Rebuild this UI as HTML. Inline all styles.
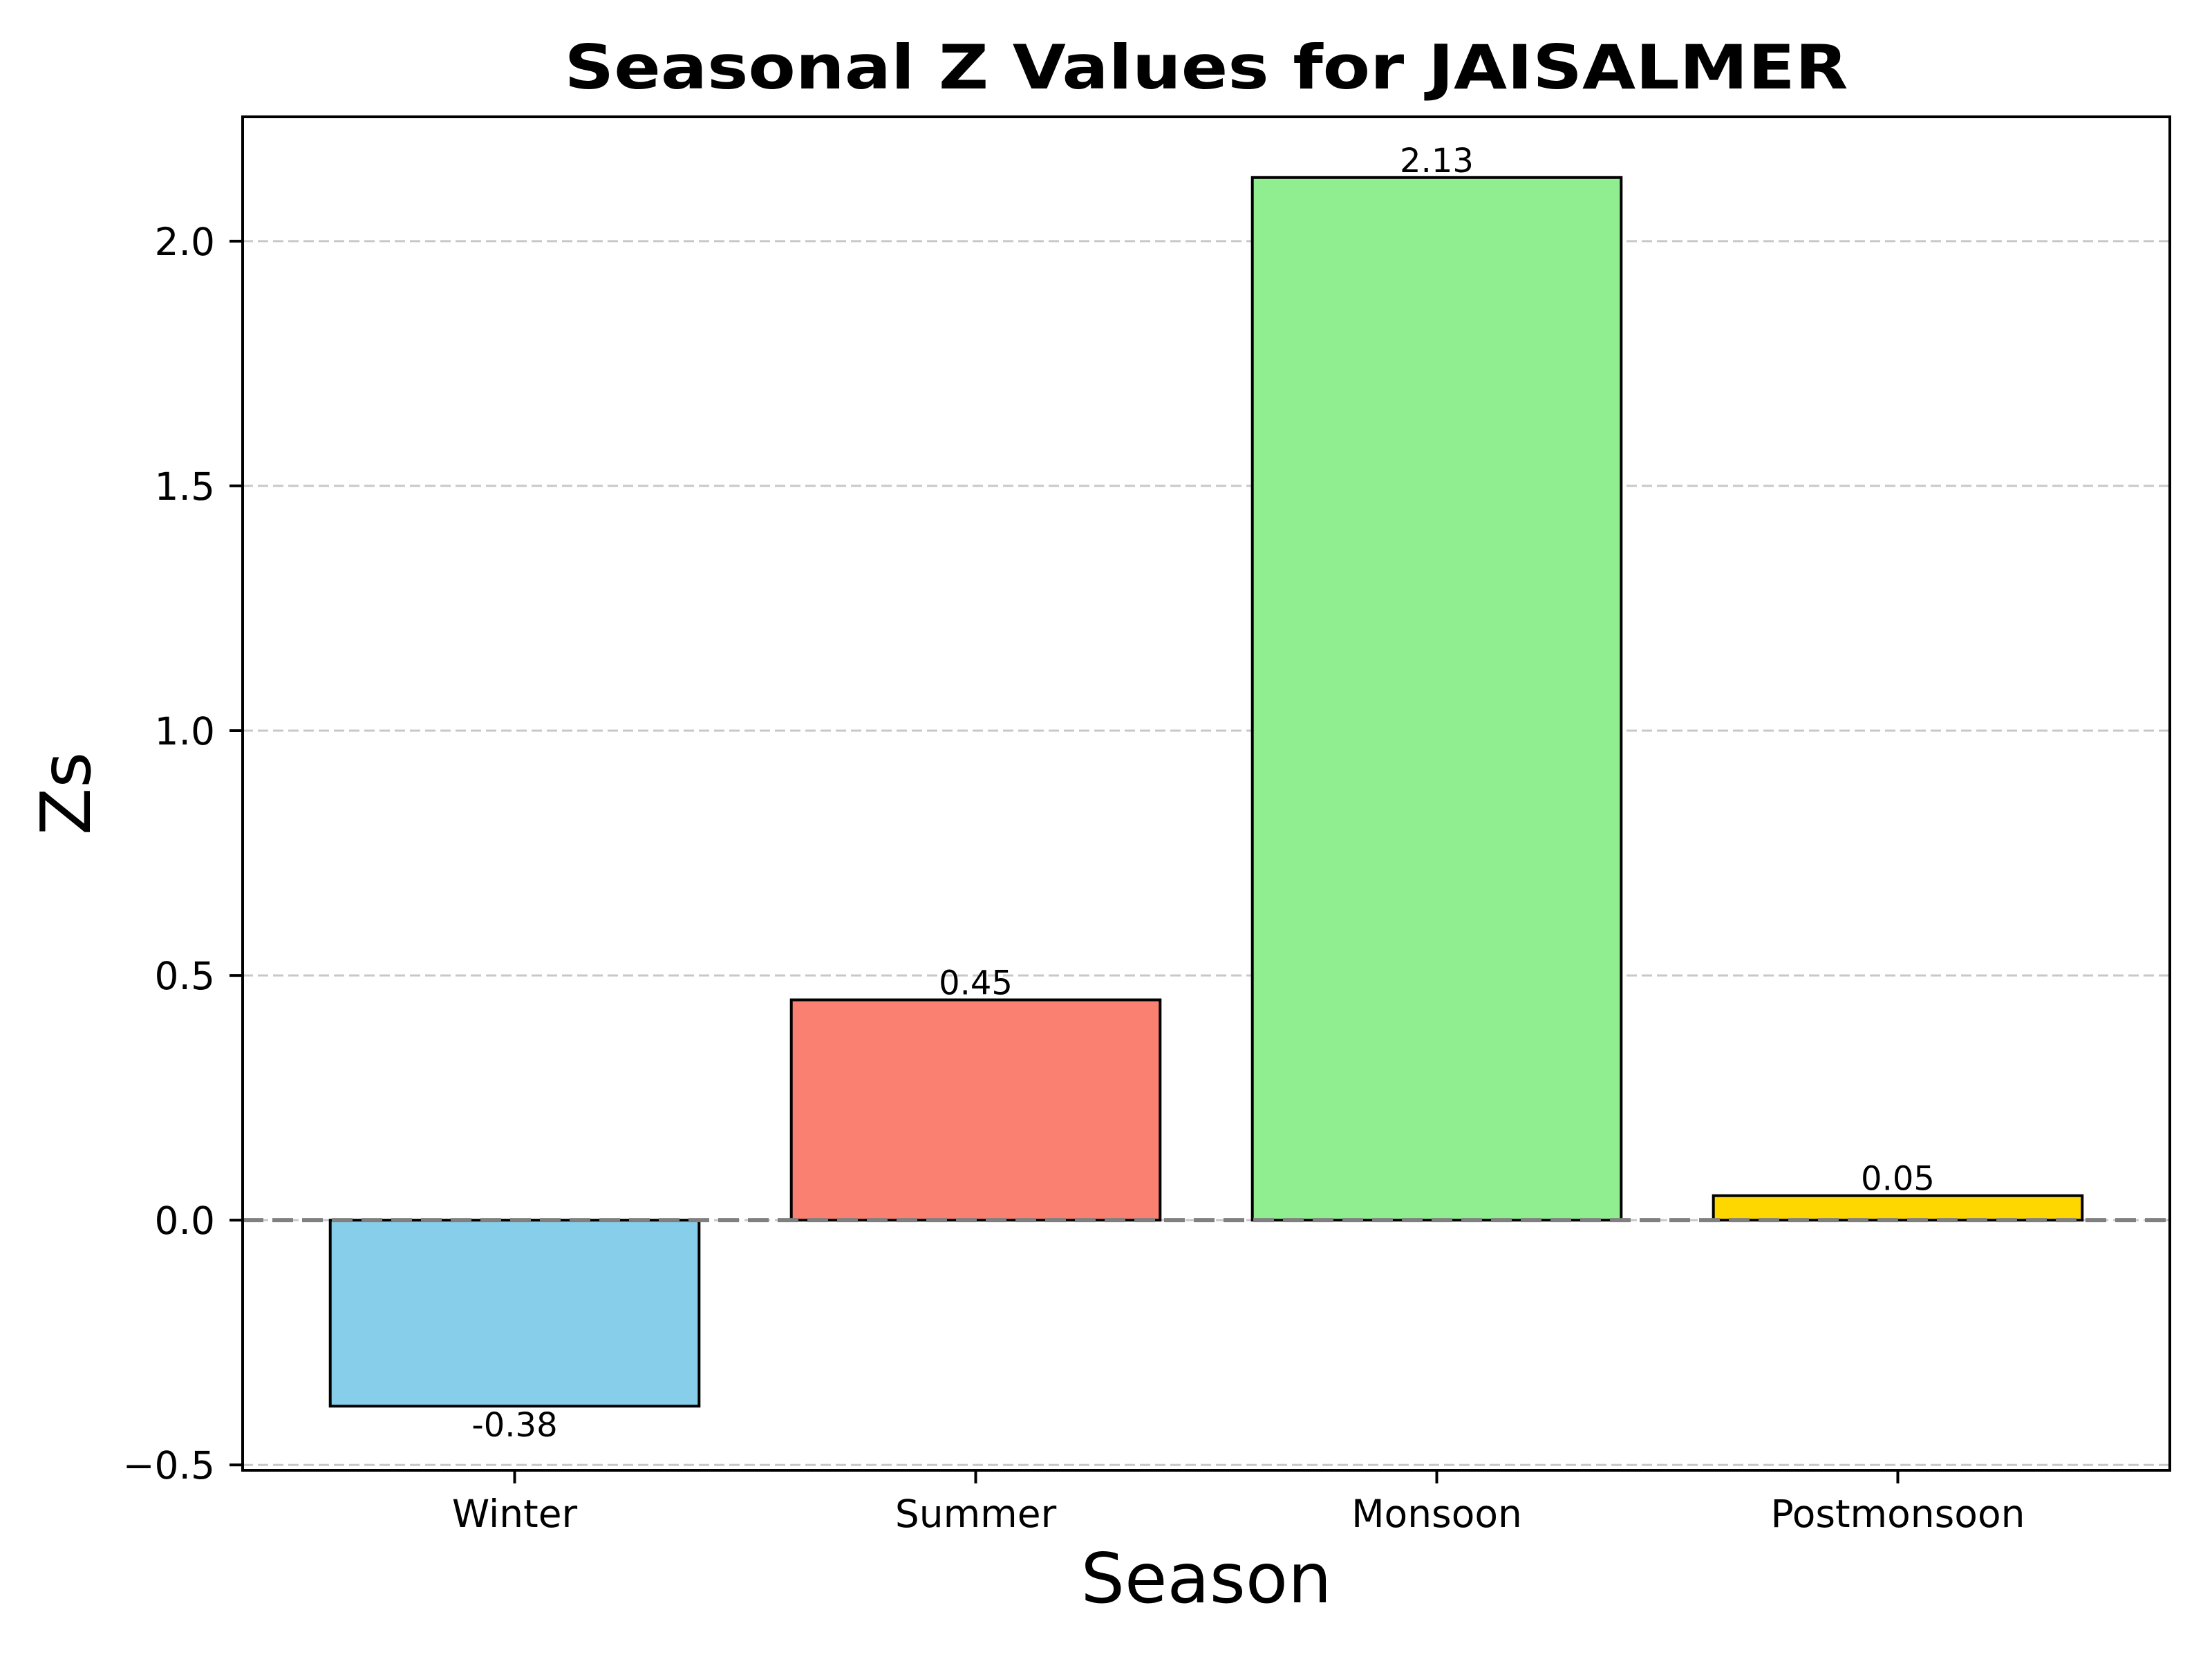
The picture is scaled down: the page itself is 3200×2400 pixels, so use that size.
<!DOCTYPE html>
<html><head><meta charset="utf-8"><style>
html,body{margin:0;padding:0;background:#fff}
svg{display:block;font-family:"DejaVu Sans","Liberation Sans",sans-serif}
</style></head><body>
<svg id="chart" width="3200" height="2400" viewBox="0 0 3200 2400" xmlns="http://www.w3.org/2000/svg">
<rect width="3200" height="2400" fill="#fff"/>
<g id="grid"></g>
<g id="bars"></g>
<g id="zero"></g>
<g id="labels"></g>
<rect x="351" y="169" width="2788" height="1958" fill="none" stroke="#000" stroke-width="4"/>
<g id="yticks"></g>
<g id="xticks"></g>
<text x="1745" y="128" text-anchor="middle" font-size="88" font-weight="bold" textLength="1857" lengthAdjust="spacingAndGlyphs">Seasonal Z Values for JAISALMER</text>
<text x="1745" y="2318" text-anchor="middle" font-size="100">Season</text>
<text transform="translate(130,1148) rotate(-90)" text-anchor="middle" font-size="100">Zs</text>
</svg>
<script>
const categories = ["Winter", "Summer", "Monsoon", "Postmonsoon"];
const values = [-0.38, 0.45, 2.13, 0.05];
const valueLabels = ["-0.38", "0.45", "2.13", "0.05"];
const colors = ["#87ceeb", "#fa8072", "#90ee90", "#ffd700"];
const yTicks = [-0.5, 0.0, 0.5, 1.0, 1.5, 2.0];
const yTickLabels = ["\u22120.5", "0.0", "0.5", "1.0", "1.5", "2.0"];

const NS = "http://www.w3.org/2000/svg";
const L = 351, R = 3139, T = 169, B = 2127;
const yMin = -0.511, yMax = 2.254;
const xMin = -0.59, xMax = 3.59;
const yS = v => B - (v - yMin) / (yMax - yMin) * (B - T);
const xS = i => L + (i - xMin) / (xMax - xMin) * (R - L);
function mk(tag, attrs, parent, text) {
  const e = document.createElementNS(NS, tag);
  for (const k in attrs) e.setAttribute(k, attrs[k]);
  if (text !== undefined) e.textContent = text;
  document.getElementById(parent).appendChild(e);
  return e;
}
yTicks.forEach((t, i) => {
  const y = yS(t);
  const g = mk("line", {x1: L, x2: R, y1: y, y2: y, stroke: "#c8c8c8", "stroke-width": 3, "stroke-dasharray": "15 7"}, "grid");
  
  
  const tk = mk("line", {x1: L - 19, x2: L, y1: y, y2: y, stroke: "#000", "stroke-width": 4}, "yticks");
  
  
  const tl = mk("text", {x: L - 40, y: y + 20, "text-anchor": "end", "font-size": 55}, "yticks", yTickLabels[i]);
  
  
});
const bw = 0.8 * (xS(1) - xS(0));
categories.forEach((c, i) => {
  const cx = xS(i), v = values[i];
  const y0 = yS(0), y1 = yS(v);
  const r = mk("rect", {x: cx - bw / 2, y: Math.min(y0, y1), width: bw, height: Math.abs(y1 - y0), fill: colors[i], stroke: "#000", "stroke-width": 4}, "bars");
  
  
  const ly = v >= 0 ? y1 - 8 : y1 + 44;
  const lt = mk("text", {x: cx, y: ly, "text-anchor": "middle", "font-size": 48}, "labels", valueLabels[i]);
  
  
  const tk = mk("line", {x1: cx, x2: cx, y1: B, y2: B + 19, stroke: "#000", "stroke-width": 4}, "xticks");
  
  
  const tl = mk("text", {x: cx, y: B + 82, "text-anchor": "middle", "font-size": 55}, "xticks", c);
  
  
});
const z = mk("line", {x1: L, x2: R, y1: yS(0), y2: yS(0), stroke: "#808080", "stroke-width": 6, "stroke-dasharray": "30 13"}, "zero");


</script>
</body></html>
